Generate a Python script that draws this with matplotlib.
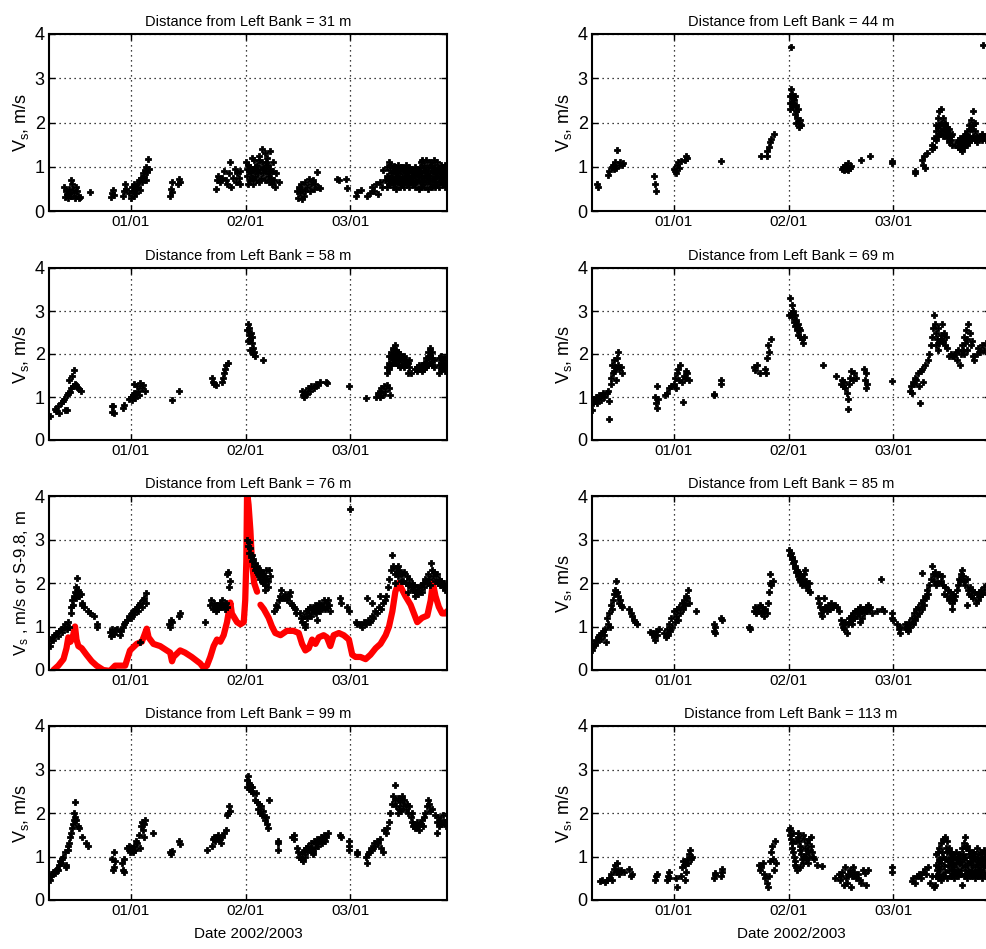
import matplotlib
matplotlib.use('Agg')
import matplotlib.pyplot as plt
import numpy as np

plt.rcParams['font.family'] = ['Liberation Sans', 'DejaVu Sans']
plt.rcParams['mathtext.fontset'] = 'custom'
plt.rcParams['mathtext.rm'] = 'Liberation Sans'
plt.rcParams['mathtext.default'] = 'regular'

# x = days from 2003-01-01, y = Vs (m/s)
pts_31 = [(-18.0, 0.55), (-17.8, 0.32), (-17.5, 0.45), (-17.2, 0.38), (-17.0, 0.30), (-16.7, 0.50), (-16.5, 0.42),
          (-16.2, 0.70), (-16.0, 0.35), (-15.8, 0.60), (-15.6, 0.48), (-15.3, 0.40), (-15.0, 0.30), (-14.8, 0.55),
          (-14.5, 0.45), (-14.2, 0.35), (-14.0, 0.30), (-13.7, 0.32), (-11.0, 0.43),
          (-5.2, 0.32), (-5.0, 0.40), (-4.8, 0.48), (-4.6, 0.36), (-2.0, 0.35), (-1.8, 0.45), (-1.5, 0.60), (-1.2, 0.50),
          (-0.5, 0.40), (0.0, 0.30), (0.3, 0.55), (0.5, 0.45), (0.8, 0.35), (1.0, 0.60), (1.3, 0.50), (1.5, 0.40),
          (1.8, 0.62), (2.0, 0.55), (2.3, 0.70), (2.5, 0.48), (2.8, 0.75), (3.0, 0.65), (3.2, 0.85), (3.5, 0.80),
          (3.7, 0.92), (4.0, 0.70), (4.2, 1.00), (4.4, 0.88), (4.6, 1.17), (4.8, 0.95),
          (10.6, 0.35), (10.8, 0.50), (11.0, 0.65), (11.2, 0.42), (12.8, 0.60), (13.0, 0.72), (13.2, 0.65),
          (23.0, 0.50), (23.2, 0.70), (23.5, 0.80), (24.0, 0.65), (24.5, 0.75), (25.0, 0.90), (25.5, 0.70),
          (26.0, 0.60), (26.5, 0.85), (26.8, 1.10), (27.0, 0.55), (27.5, 0.75), (28.0, 0.95), (28.3, 0.65),
          (28.6, 0.85), (29.0, 0.75), (29.4, 0.60), (29.5, 0.90),
          (31.0, 1.10), (31.2, 0.95), (31.4, 0.80), (31.6, 1.05), (31.8, 0.90), (32.0, 0.70), (32.2, 1.00),
          (32.4, 0.85), (32.6, 0.75), (32.8, 0.95), (33.0, 0.60), (33.2, 1.15), (33.4, 0.80), (33.6, 0.90),
          (33.8, 0.70), (34.0, 1.05), (34.2, 0.85), (34.4, 0.65), (34.6, 1.25), (34.8, 0.95), (35.0, 0.75),
          (35.2, 1.10), (35.4, 1.40), (35.6, 0.85), (35.8, 1.00), (36.0, 0.70), (36.2, 1.30), (36.4, 0.90),
          (36.6, 1.20), (36.8, 0.80), (37.0, 1.05), (37.2, 0.65), (37.4, 0.95), (37.6, 1.35), (37.8, 0.75),
          (38.0, 0.60), (38.2, 1.10), (38.4, 0.90), (38.6, 0.70), (38.8, 0.55), (39.0, 0.85), (39.8, 0.66),
          (31.5, 0.60), (32.5, 1.20), (33.5, 1.00), (34.5, 1.15), (35.5, 0.95), (36.5, 1.10), (37.5, 0.85),
          (44.8, 0.45), (45.0, 0.30), (45.2, 0.55), (45.5, 0.40), (45.8, 0.60), (46.0, 0.28), (46.2, 0.50),
          (46.5, 0.35), (46.8, 0.45), (47.0, 0.65), (47.5, 0.55), (48.0, 0.72), (48.3, 0.45), (48.6, 0.60),
          (49.0, 0.70), (49.3, 0.50), (49.6, 0.62), (50.0, 0.88), (50.5, 0.55), (51.0, 0.52),
          (55.5, 0.72), (56.0, 0.70), (58.0, 0.72), (58.3, 0.52),
          (60.5, 0.35), (60.8, 0.42), (62.0, 0.48), (63.5, 0.35), (64.5, 0.40), (65.0, 0.55), (65.5, 0.45),
          (66.0, 0.60), (66.5, 0.38), (67.0, 0.65), (67.5, 0.55), (68.0, 0.93), (68.3, 0.70),
          (69.0, 0.55), (69.0, 0.80), (69.0, 1.00), (69.5, 0.60), (69.5, 0.75), (69.5, 1.10), (70.0, 0.65),
          (70.0, 0.85), (70.0, 1.05), (70.5, 0.55), (70.5, 0.90), (70.5, 0.70), (71.0, 0.60), (71.0, 0.80),
          (71.0, 1.00), (71.5, 0.50), (71.5, 0.75), (71.5, 0.95), (72.0, 0.65), (72.0, 0.85), (72.0, 1.05),
          (72.5, 0.55), (72.5, 0.70), (72.5, 0.90), (73.0, 0.60), (73.0, 0.80), (73.0, 1.00), (73.5, 0.55),
          (73.5, 0.75), (73.5, 0.95), (74.0, 0.65), (74.0, 0.85), (74.0, 1.05), (74.5, 0.60), (74.5, 0.80),
          (74.5, 0.90), (75.0, 0.55), (75.0, 0.75), (75.0, 1.00), (75.5, 0.65), (75.5, 0.85), (75.5, 0.95),
          (76.0, 0.60), (76.0, 0.70), (76.0, 0.90), (76.5, 0.55), (76.5, 0.80), (76.5, 1.00), (77.0, 0.65),
          (77.0, 0.85), (77.0, 0.95), (77.5, 0.50), (77.5, 0.70), (77.5, 0.90), (78.0, 0.55), (78.0, 0.80),
          (78.0, 1.10), (78.5, 0.60), (78.5, 0.85), (78.5, 1.15), (79.0, 0.55), (79.0, 0.75), (79.0, 1.05),
          (79.5, 0.65), (79.5, 0.90), (79.5, 1.15), (80.0, 0.50), (80.0, 0.80), (80.0, 1.00), (80.5, 0.60),
          (80.5, 0.85), (80.5, 1.10), (81.0, 0.55), (81.0, 0.75), (81.0, 1.05), (81.5, 0.65), (81.5, 0.90),
          (81.5, 1.15), (82.0, 0.55), (82.0, 0.80), (82.0, 1.00), (82.5, 0.60), (82.5, 0.85), (82.5, 1.10),
          (83.0, 0.55), (83.0, 0.75), (83.0, 0.95), (83.5, 0.65), (83.5, 0.90), (83.5, 1.05), (84.0, 0.60),
          (84.0, 0.80), (84.0, 1.00), (84.5, 0.55), (84.5, 0.85), (84.5, 1.05), (85.0, 0.65), (85.0, 0.90),
          (69.25, 0.68), (69.75, 0.92), (70.25, 0.75), (70.75, 1.02), (71.25, 0.70), (71.75, 0.88),
          (72.25, 0.75), (72.75, 1.00), (73.25, 0.70), (73.75, 0.88), (74.25, 0.75), (74.75, 0.98),
          (75.25, 0.68), (75.75, 0.78), (76.25, 0.82), (76.75, 0.68), (77.25, 0.78), (77.75, 1.00),
          (78.25, 0.68), (78.75, 0.98), (79.25, 0.90), (79.75, 0.78), (80.25, 0.70), (80.75, 0.98),
          (81.25, 0.90), (81.75, 0.75), (82.25, 0.68), (82.75, 0.98), (83.25, 0.85), (83.75, 0.75),
          (84.25, 0.70), (84.75, 0.95)]

pts_44 = [(-20.6, 0.62), (-20.5, 0.55), (-17.6, 0.82), (-17.4, 0.90), (-16.6, 1.00), (-16.3, 1.05), (-16.0, 0.95),
          (-15.7, 1.10), (-15.5, 0.98), (-15.2, 1.38), (-14.8, 1.05), (-14.5, 1.10), (-14.0, 1.05), (-13.6, 1.08),
          (-5.3, 0.78), (-5.0, 0.62), (-4.8, 0.45),
          (0.0, 0.95), (0.3, 0.90), (0.6, 0.85), (0.9, 1.05), (1.2, 1.10), (1.5, 0.98), (2.0, 1.12), (3.0, 1.15),
          (3.2, 1.25), (3.5, 1.20), (12.6, 1.14),
          (23.4, 1.25), (25.0, 1.25), (25.2, 1.35), (25.5, 1.45), (25.8, 1.55), (26.2, 1.62), (27.0, 1.75),
          (31.5, 3.70), (31.2, 2.30), (31.4, 2.60), (31.6, 2.75), (31.8, 2.45), (32.0, 2.55), (32.2, 2.35),
          (32.4, 2.50), (32.6, 2.20), (32.8, 2.40), (33.0, 2.25), (33.2, 2.10), (33.4, 2.30), (33.6, 2.00),
          (33.8, 1.90), (34.0, 2.05), (34.2, 1.95), (31.3, 2.45), (31.9, 2.65), (32.5, 2.60), (33.0, 2.00),
          (45.2, 0.95), (45.5, 1.00), (46.0, 1.05), (46.3, 0.95), (46.6, 1.00), (47.0, 1.08), (47.3, 0.98),
          (47.6, 1.02), (46.8, 0.92), (45.8, 0.92), (50.5, 1.15), (52.7, 1.25), (58.6, 1.12), (58.6, 1.08),
          (64.9, 0.90), (64.9, 0.85), (66.7, 1.15), (67.0, 1.05), (67.3, 1.25), (67.6, 0.97), (68.2, 1.30),
          (69.5, 1.40), (69.5, 1.50), (70.0, 1.45), (70.0, 1.65), (70.5, 1.60), (70.5, 1.80), (70.5, 1.95),
          (71.0, 1.70), (71.0, 1.90), (71.0, 2.10), (71.5, 1.75), (71.5, 1.95), (71.5, 2.25), (72.0, 1.80),
          (72.0, 2.00), (72.0, 2.30), (72.5, 1.70), (72.5, 1.85), (72.5, 2.10), (73.0, 1.75), (73.0, 1.95),
          (73.0, 2.00), (73.5, 1.65), (73.5, 1.80), (73.5, 1.90), (74.0, 1.55), (74.0, 1.75), (74.0, 1.85),
          (74.5, 1.60), (74.5, 1.70), (75.0, 1.50), (75.0, 1.75), (75.7, 1.50),
          (76.5, 1.45), (76.5, 1.55), (76.5, 1.60), (77.0, 1.40), (77.0, 1.55), (77.0, 1.65), (77.5, 1.35),
          (77.5, 1.50), (77.5, 1.60), (78.0, 1.45), (78.0, 1.55), (78.0, 1.70), (78.5, 1.50), (78.5, 1.60),
          (78.5, 1.75), (79.0, 1.50), (79.0, 1.65), (79.0, 1.80), (79.5, 1.55), (79.5, 1.70), (79.5, 1.95),
          (80.0, 1.60), (80.0, 1.85), (80.0, 2.05), (80.5, 1.70), (80.5, 1.95), (80.5, 2.25), (81.0, 1.60),
          (81.0, 1.80), (81.0, 2.00), (81.5, 1.55), (81.5, 1.70), (82.5, 1.65), (82.5, 1.70), (83.0, 1.60),
          (83.0, 1.75), (83.5, 1.65), (83.5, 1.70), (84.0, 1.60), (84.0, 1.70), (83.3, 3.75)]

pts_58 = [(-21.6, 0.55), (-20.5, 0.72), (-20.0, 0.68), (-19.6, 0.80), (-19.2, 0.62), (-18.8, 0.85), (-18.3, 0.90),
          (-18.0, 0.95), (-17.6, 0.70), (-17.2, 1.05), (-17.0, 1.10), (-16.6, 1.40), (-16.3, 1.12), (-16.0, 1.20),
          (-15.7, 1.50), (-15.5, 1.25), (-15.2, 1.62), (-15.0, 1.30), (-14.6, 1.28), (-14.2, 1.20), (-13.8, 1.18),
          (-13.3, 1.15), (-17.2, 0.69),
          (-5.1, 0.80), (-5.0, 0.65), (-4.8, 0.78), (-4.6, 0.62), (-2.0, 0.75), (-1.8, 0.82),
          (-0.5, 0.95), (0.0, 1.00), (0.3, 0.92), (0.6, 1.05), (0.9, 1.10), (1.2, 0.98), (1.5, 1.08), (1.8, 1.25),
          (2.0, 1.15), (2.3, 1.05), (2.6, 1.32), (3.0, 1.20), (3.4, 1.28), (3.8, 1.15), (1.0, 1.30),
          (11.0, 0.93), (13.0, 1.15),
          (21.8, 1.45), (22.0, 1.35), (22.3, 1.30), (23.0, 1.28), (24.5, 1.35), (24.8, 1.45), (25.0, 1.55),
          (25.3, 1.65), (25.6, 1.75), (26.2, 1.78),
          (31.3, 2.55), (31.5, 2.70), (31.7, 2.45), (31.9, 2.60), (32.1, 2.35), (32.3, 2.50), (32.5, 2.25),
          (32.7, 2.40), (32.9, 2.15), (33.1, 2.05), (33.3, 1.95), (31.6, 2.30), (32.2, 2.10), (33.0, 2.00),
          (35.6, 1.85),
          (46.1, 1.15), (46.3, 1.05), (46.6, 1.00), (46.9, 1.12), (47.3, 1.08), (47.7, 1.20), (48.2, 1.15),
          (48.6, 1.25), (49.2, 1.22), (49.8, 1.30), (50.5, 1.28), (51.0, 1.35), (52.5, 1.35), (52.8, 1.32),
          (58.7, 1.25), (63.3, 0.97),
          (65.9, 1.00), (66.5, 1.10), (67.0, 1.00), (67.3, 1.20), (67.8, 1.05), (68.2, 1.25), (68.5, 1.15),
          (69.0, 1.28), (69.5, 1.22), (69.8, 1.05), (67.0, 1.12),
          (69.0, 1.55), (69.0, 1.70), (69.5, 1.65), (69.5, 1.80), (69.5, 1.95), (70.0, 1.75), (70.0, 1.90),
          (70.0, 2.05), (70.5, 1.80), (70.5, 1.95), (70.5, 2.15), (71.0, 1.85), (71.0, 2.00), (71.0, 2.20),
          (71.5, 1.80), (71.5, 1.95), (71.5, 2.10), (72.0, 1.75), (72.0, 1.90), (72.0, 2.05), (72.5, 1.70),
          (72.5, 1.85), (72.5, 2.00), (73.0, 1.75), (73.0, 1.90), (73.5, 1.70), (73.5, 1.80), (73.5, 1.95),
          (74.0, 1.75), (74.0, 1.85), (74.5, 1.55), (74.5, 1.80), (75.0, 1.70), (75.0, 1.85), (75.5, 1.55),
          (76.5, 1.65), (77.0, 1.60), (77.0, 1.70), (77.5, 1.65), (77.5, 1.75), (78.0, 1.65), (78.0, 1.70),
          (78.5, 1.60), (78.5, 1.75), (79.0, 1.65), (79.0, 1.70), (79.0, 1.80), (79.5, 1.70), (79.5, 1.80),
          (79.5, 1.90), (80.0, 1.75), (80.0, 1.90), (80.0, 2.05), (80.5, 1.80), (80.5, 1.95), (80.5, 2.15),
          (81.0, 1.75), (81.0, 1.90), (81.0, 2.05), (81.5, 1.70), (81.5, 1.85), (83.0, 1.55), (83.0, 1.75),
          (83.0, 1.90), (83.5, 1.65), (83.5, 1.80), (83.5, 1.95), (84.0, 1.70), (84.0, 1.85), (84.5, 1.60),
          (84.5, 1.75), (84.5, 1.90), (85.0, 1.70), (85.0, 1.80)]

pts_69 = [(-22.0, 0.70), (-21.8, 0.85), (-21.6, 0.95), (-21.2, 0.90), (-20.9, 1.00), (-20.6, 0.85), (-20.3, 0.95),
          (-20.0, 1.05), (-19.7, 0.92), (-19.4, 1.05), (-19.0, 1.10), (-18.7, 1.00), (-18.0, 1.10), (-17.6, 1.15),
          (-17.3, 0.90), (-17.5, 0.48), (-17.0, 1.30), (-16.8, 1.45), (-16.6, 1.75), (-16.4, 1.55), (-16.2, 1.85),
          (-16.0, 1.60), (-15.8, 1.70), (-15.5, 1.40), (-15.3, 1.90), (-15.1, 2.05), (-14.9, 1.75), (-14.6, 1.65),
          (-14.3, 1.70), (-14.0, 1.55),
          (-5.0, 1.00), (-4.8, 0.85), (-4.6, 0.75), (-4.4, 1.25), (-4.2, 0.95),
          (-2.3, 1.05), (-1.8, 1.10), (-1.3, 1.20), (-0.8, 1.25),
          (0.0, 1.30), (0.3, 1.45), (0.6, 1.20), (0.9, 1.55), (1.2, 1.65), (1.5, 1.40), (1.8, 1.75), (2.1, 1.35),
          (2.4, 0.88), (2.7, 1.50), (3.0, 1.45), (3.3, 1.60), (3.6, 1.55), (4.0, 1.40),
          (10.8, 1.08), (10.9, 1.05), (12.6, 1.40), (12.6, 1.30),
          (21.6, 1.70), (21.8, 1.62), (22.5, 1.75), (23.2, 1.55), (24.5, 1.65), (24.8, 1.55), (25.1, 1.90),
          (25.4, 2.20), (25.6, 2.05), (26.2, 2.35),
          (31.1, 2.90), (31.3, 3.30), (31.5, 2.95), (31.7, 3.15), (31.9, 2.85), (32.1, 3.00), (32.3, 2.75),
          (32.5, 2.90), (32.7, 2.65), (32.9, 2.80), (33.1, 2.55), (33.3, 2.70), (33.5, 2.45), (33.7, 2.60),
          (33.9, 2.40), (34.1, 2.55), (34.4, 2.35), (34.7, 2.25), (35.0, 2.40),
          (40.1, 1.75), (43.7, 1.50),
          (45.0, 1.30), (45.3, 1.40), (45.6, 1.25), (45.9, 1.35), (46.2, 1.20), (46.5, 1.10), (46.8, 0.95),
          (46.9, 0.72), (47.2, 1.30), (47.5, 1.45), (47.8, 1.60), (48.1, 1.40), (48.5, 1.55), (49.0, 1.45),
          (51.2, 1.65), (51.5, 1.40), (51.8, 1.55), (52.0, 1.30), (51.6, 1.20), (58.6, 1.38),
          (63.5, 1.15), (63.8, 1.25), (64.1, 1.10), (64.4, 1.35), (64.7, 1.30), (65.0, 1.45), (65.3, 1.40),
          (65.6, 1.55), (65.9, 1.25), (66.2, 0.85), (66.5, 1.60), (66.8, 1.65), (67.2, 1.35), (67.6, 1.75),
          (68.5, 1.85), (68.8, 2.00), (69.1, 2.20), (69.4, 2.40), (69.7, 2.60), (70.0, 2.90), (70.3, 2.70),
          (70.6, 2.50), (70.9, 2.35), (71.2, 2.60), (71.5, 2.25), (71.8, 2.45), (72.1, 2.70), (72.4, 2.30),
          (72.7, 2.50), (73.0, 2.20), (73.3, 2.40), (73.6, 2.15), (74.0, 1.95), (74.5, 2.00), (75.0, 1.95),
          (75.5, 1.95), (76.0, 2.05), (76.3, 1.85), (76.6, 2.10), (76.9, 1.75), (77.2, 2.00), (77.5, 2.20),
          (77.8, 2.10), (78.1, 2.40), (78.4, 2.25), (78.7, 2.55), (79.0, 2.35), (79.3, 2.70), (79.6, 2.50),
          (79.9, 2.20), (80.2, 2.30), (80.5, 1.95), (80.8, 1.85), (81.5, 2.00), (82.0, 2.15), (82.5, 2.05),
          (83.0, 2.20), (83.5, 2.10), (84.0, 2.25), (84.5, 2.05), (70.5, 2.20), (71.0, 2.10), (72.0, 2.35),
          (78.0, 2.00), (79.0, 2.10)]

pts_76 = [(-21.7, 0.55), (-21.5, 0.70), (-21.2, 0.75), (-20.8, 0.68), (-20.5, 0.80), (-20.0, 0.85), (-19.6, 0.78),
          (-19.2, 0.90), (-18.8, 0.95), (-18.5, 0.88), (-18.0, 1.00), (-17.6, 1.05), (-17.2, 0.95), (-16.8, 1.10),
          (-16.5, 1.00), (-16.2, 1.30), (-16.0, 1.45), (-15.8, 1.60), (-15.5, 1.50), (-15.2, 1.70), (-15.0, 1.80),
          (-14.8, 1.65), (-14.6, 1.90), (-14.4, 2.12), (-14.2, 1.85), (-14.0, 1.75), (-13.8, 1.70), (-13.5, 1.75),
          (-13.2, 1.55), (-13.0, 1.50), (-12.5, 1.45), (-11.5, 1.35), (-11.0, 1.30), (-10.0, 1.25), (-9.2, 1.05),
          (-9.0, 1.00),
          (-5.5, 0.88), (-5.2, 0.78), (-5.0, 0.95), (-4.6, 0.82), (-4.2, 0.92), (-3.8, 0.95),
          (-2.8, 0.80), (-2.5, 0.90), (-2.2, 1.00), (-1.8, 1.05), (-1.5, 1.10), (-1.0, 1.15), (-0.5, 1.25),
          (0.0, 1.20), (0.3, 1.30), (0.6, 1.35), (1.0, 1.28), (1.3, 1.40), (1.6, 1.45), (2.0, 1.35), (2.3, 1.50),
          (2.6, 1.55), (3.0, 1.45), (3.3, 1.60), (3.6, 1.65), (4.0, 1.78), (4.2, 1.55), (2.5, 0.65),
          (10.2, 1.05), (10.5, 1.00), (10.8, 1.15), (11.0, 1.10), (13.0, 1.25), (13.2, 1.30), (20.0, 1.10),
          (21.4, 1.50), (21.7, 1.60), (22.0, 1.40), (22.3, 1.55), (22.6, 1.45), (23.0, 1.35), (23.3, 1.50),
          (23.6, 1.40), (24.0, 1.55), (24.3, 1.45), (24.6, 1.60), (25.0, 1.50), (25.3, 1.40), (25.6, 1.55),
          (25.9, 2.20), (26.2, 2.25), (26.5, 1.90), (26.0, 1.45), (26.8, 2.05),
          (31.3, 3.00), (31.5, 2.85), (31.7, 2.95), (31.9, 2.70), (32.1, 2.80), (32.3, 2.60), (32.5, 2.65),
          (32.7, 2.50), (32.9, 2.55), (33.1, 2.40), (33.3, 2.45), (33.5, 2.30), (33.7, 2.35), (33.9, 2.25),
          (34.1, 2.40), (34.3, 2.20), (34.5, 2.15), (34.7, 2.30), (34.9, 2.10), (35.1, 2.25), (35.3, 2.05),
          (35.5, 2.20), (35.7, 2.00), (35.9, 2.15), (36.1, 1.95), (36.3, 2.30), (36.5, 2.10), (36.8, 2.05),
          (37.2, 2.30), (37.5, 2.15), (37.0, 1.90), (36.0, 1.85),
          (38.5, 1.35), (39.0, 1.50), (39.3, 1.45), (39.8, 1.60), (40.2, 1.70), (40.5, 1.85), (41.0, 1.65),
          (41.5, 1.75), (42.0, 1.60), (42.5, 1.70), (43.0, 1.55), (43.3, 1.50), (43.8, 1.45), (44.2, 1.40),
          (44.5, 1.30), (42.8, 1.80),
          (45.6, 1.30), (45.9, 1.20), (46.2, 1.10), (46.5, 1.25), (46.8, 1.05), (47.1, 1.35), (47.4, 1.20),
          (47.7, 1.40), (48.0, 1.30), (48.3, 1.45), (48.6, 1.25), (48.9, 1.40), (49.2, 1.35), (49.5, 1.50),
          (49.8, 1.30), (50.1, 1.45), (50.4, 1.40), (50.7, 1.55), (51.0, 1.35), (51.3, 1.50), (51.6, 1.45),
          (51.9, 1.60), (52.2, 1.40), (52.5, 1.55), (52.8, 1.45), (53.1, 1.60), (53.4, 1.50), (53.7, 1.35),
          (47.0, 1.00), (50.0, 1.15),
          (56.4, 1.65), (56.6, 1.55), (58.3, 1.45), (58.6, 1.35), (59.1, 3.70), (60.5, 1.10), (60.8, 1.05),
          (63.6, 1.65),
          (61.8, 1.05), (62.3, 1.00), (62.8, 1.10), (63.3, 1.05), (63.8, 1.15), (64.3, 1.10), (64.8, 1.25),
          (65.3, 1.20), (65.8, 1.35), (66.3, 1.30), (66.8, 1.45), (67.3, 1.40), (67.8, 1.55), (68.3, 1.60),
          (68.8, 1.70), (69.3, 1.90), (69.6, 2.10), (70.0, 2.30), (70.3, 2.65), (70.6, 2.40), (71.0, 2.20),
          (71.3, 2.35), (71.6, 2.25), (72.0, 2.15), (72.3, 2.30), (72.6, 2.05), (67.0, 1.70), (65.0, 1.55),
          (73.0, 2.20), (73.3, 2.05), (73.6, 2.25), (74.0, 2.00), (74.3, 2.15), (74.6, 1.95), (75.0, 2.10),
          (75.3, 1.90), (75.6, 2.00), (76.0, 1.85), (76.3, 1.95), (76.6, 1.80), (77.0, 1.90), (77.3, 1.75),
          (77.6, 1.85), (78.0, 1.95), (78.3, 1.80), (78.6, 2.00), (79.0, 1.90), (79.3, 2.10), (79.6, 2.00),
          (80.0, 2.20), (80.3, 2.10), (80.7, 2.45), (81.0, 2.30), (81.3, 2.15), (81.6, 2.25), (82.0, 2.05),
          (82.3, 2.20), (82.6, 2.00), (83.0, 2.10), (83.3, 1.95), (83.6, 2.05), (84.0, 1.90), (84.3, 2.00),
          (84.6, 1.85), (85.0, 1.95), (74.5, 1.80), (76.5, 1.70), (71.0, 2.00), (72.0, 2.40), (80.5, 1.95)]

# red curve, stage S - 9.8 m, same day axis (nan = gap in record)
stage_day = [-20.8, -19.5, -18.1, -17.3, -16.8, -16.2, -15.5, -15.0, -14.6, -14.1, -13.2, -11.9, -10.5, -9.2,
             -8.3, -7.4, -5.6, -4.2, -2.9, -1.5, -0.2, 1.6, 3.0, 4.3, 4.8, 6.1, 7.9, 9.7, 10.6, 11.1, 11.5,
             13.3, 14.6, 16.4, 18.7, 19.6, 20.5, 21.4, 22.3, 23.2, 24.1, 25.0, 25.9, 26.8, 27.2, 28.6, 29.5,
             30.4, 30.8, 31.1, 31.3, 31.7, 32.2, 32.6, 33.2, 34.0, 34.4, 34.9, 35.8, 37.1, 38.0, 38.9, 40.3,
             42.0, 43.8, 45.2, 46.1, 47.0, 47.9, 48.8, 49.7, 50.6, 51.9, 52.8, 53.7, 54.6, 56.0, 57.3, 58.7,
             59.6, 60.5, 61.8, 63.2, 64.5, 65.9, 67.2, 68.6, 69.5, 70.4, 71.2, 72.1, 73.0, 73.9, 75.3, 76.2,
             77.1, 78.4, 79.8, 80.7, 81.3, 82.0, 82.9, 83.8, 84.7, 85.1]
stage_val = [0.00, 0.10, 0.25, 0.50, 0.75, 0.65, 0.80, 1.00, 0.70, 0.55, 0.50, 0.35, 0.20, 0.10,
             0.05, 0.00, -0.02, 0.10, 0.10, 0.10, 0.45, 0.60, 0.65, 0.95, 0.75, 0.60, 0.55, 0.45, 0.40, 0.20, 0.30,
             0.45, 0.40, 0.30, 0.15, 0.05, 0.10, 0.30, 0.55, 0.70, 0.65, 0.80, 1.10, 1.55, 1.30, 1.10, 1.05,
             1.10, 1.60, 2.50, 4.10, 3.80, 3.20, 2.50, 2.00, 1.80, np.nan, 1.50, 1.40, 1.20, 1.00, 0.85, 0.80,
             0.90, 0.90, 0.85, 0.60, 0.45, 0.50, 0.70, 0.60, 0.75, 0.80, 0.75, 0.55, 0.80, 0.85, 0.80, 0.70,
             0.35, 0.30, 0.30, 0.25, 0.35, 0.50, 0.60, 0.80, 1.00, 1.35, 1.80, 2.00, 1.85, 1.70, 1.50, 1.30,
             1.10, 1.20, 1.25, 1.60, 2.00, 1.70, 1.45, 1.30, 1.30, 1.35]

pts_85 = [(-22.0, 0.45), (-21.8, 0.55), (-21.5, 0.62), (-21.2, 0.58), (-20.9, 0.70), (-20.6, 0.65), (-20.3, 0.75),
          (-20.0, 0.80), (-19.7, 0.72), (-19.4, 0.85), (-19.1, 0.90), (-18.8, 0.80), (-18.5, 0.95), (-18.2, 0.65),
          (-18.0, 1.20), (-17.8, 1.05), (-17.5, 1.30), (-17.2, 1.00), (-17.0, 1.50), (-16.7, 1.40), (-16.4, 1.60),
          (-16.1, 1.75), (-15.8, 1.85), (-15.5, 2.05), (-15.3, 1.80), (-15.0, 1.70), (-14.7, 1.55), (-14.4, 1.60),
          (-14.1, 1.50), (-13.8, 1.45), (-12.0, 1.40), (-11.6, 1.30), (-11.2, 1.25), (-10.8, 1.15), (-10.4, 1.10),
          (-10.0, 1.05),
          (-6.3, 0.88), (-5.8, 0.85), (-5.3, 0.75), (-5.0, 0.68), (-4.7, 0.90), (-4.4, 0.80), (-4.0, 0.95),
          (-2.5, 0.85), (-2.2, 0.75), (-1.9, 0.95), (-1.6, 0.80), (-1.3, 1.05), (-1.0, 0.90), (-0.7, 1.20),
          (-0.4, 1.00), (0.0, 1.35), (0.3, 1.10), (0.6, 1.25), (0.9, 1.40), (1.2, 1.15), (1.5, 1.45), (1.8, 1.30),
          (2.1, 1.55), (2.4, 1.40), (2.7, 1.60), (3.0, 1.50), (3.3, 1.70), (3.6, 1.65), (3.9, 1.85), (4.2, 1.55),
          (6.0, 1.35),
          (10.8, 1.05), (10.9, 0.90), (11.0, 1.00), (11.1, 0.85), (12.8, 1.20), (13.0, 1.15), (20.3, 1.00),
          (20.4, 0.95),
          (21.6, 1.35), (21.9, 1.45), (22.2, 1.30), (22.5, 1.40), (22.8, 1.35), (23.1, 1.50), (23.4, 1.30),
          (23.7, 1.45), (24.0, 1.35), (24.3, 1.25), (24.6, 1.40), (25.0, 1.30), (25.3, 1.55), (25.6, 1.80),
          (25.8, 2.00), (26.0, 2.20), (26.3, 1.95), (26.6, 2.05),
          (31.1, 2.75), (31.3, 2.65), (31.5, 2.70), (31.7, 2.55), (31.9, 2.60), (32.1, 2.45), (32.3, 2.50),
          (32.5, 2.35), (32.7, 2.40), (32.9, 2.25), (33.1, 2.30), (33.3, 2.15), (33.5, 2.25), (33.7, 2.10),
          (33.9, 2.20), (34.1, 2.05), (34.3, 2.15), (34.5, 1.95), (34.7, 2.10), (34.9, 2.00), (35.1, 2.20),
          (35.3, 2.30), (35.5, 1.95), (35.7, 2.05), (35.9, 1.90), (36.1, 1.85), (36.3, 2.00), (36.6, 1.80),
          (38.7, 1.65), (39.0, 1.55), (39.3, 1.45), (39.6, 1.30), (39.9, 1.25), (40.2, 1.40), (40.5, 1.65),
          (40.8, 1.45), (41.2, 1.35), (41.6, 1.50), (42.0, 1.40), (42.4, 1.55), (42.8, 1.45),
          (43.5, 1.50), (44.0, 1.45), (44.5, 1.35),
          (45.0, 1.15), (45.3, 1.05), (45.6, 1.00), (45.9, 0.95), (46.2, 1.10), (46.5, 0.85), (46.8, 1.05),
          (47.1, 1.20), (47.4, 1.10), (47.7, 1.25), (48.0, 1.15), (48.3, 1.30), (48.6, 1.20), (48.9, 1.35),
          (49.2, 1.25), (49.5, 1.40), (49.8, 1.30), (50.1, 1.45), (50.4, 1.35), (50.7, 1.20), (51.0, 1.40),
          (51.3, 1.30), (51.6, 1.45), (51.9, 1.35), (52.2, 1.50), (52.5, 1.40), (52.8, 1.45), (53.4, 1.30),
          (48.0, 1.05), (50.0, 1.10),
          (55.8, 2.10), (54.7, 1.35), (56.0, 1.40), (56.5, 1.35), (58.6, 1.30), (58.8, 1.20), (59.0, 1.15),
          (60.2, 1.05), (60.5, 0.95), (60.8, 0.85), (61.0, 1.00), (66.7, 2.22),
          (62.2, 1.05), (62.5, 0.95), (62.8, 1.00), (63.1, 0.90), (63.4, 1.10), (63.7, 1.00), (64.0, 1.20),
          (64.3, 1.05), (64.6, 1.30), (64.9, 1.15), (65.2, 1.40), (65.5, 1.25), (65.8, 1.45), (66.1, 1.30),
          (66.4, 1.55), (66.7, 1.40), (67.0, 1.60), (67.3, 1.50), (67.6, 1.70), (67.9, 1.65), (68.2, 1.85),
          (68.5, 1.75), (68.8, 1.95), (69.1, 2.10), (69.4, 2.40), (69.7, 2.20), (70.0, 2.05), (70.3, 2.25),
          (70.6, 1.95), (70.9, 2.15), (71.2, 2.00), (71.5, 2.20), (71.8, 2.05), (72.1, 2.15), (72.4, 1.95),
          (72.8, 1.75), (73.1, 1.90), (73.4, 1.70), (73.7, 1.85), (74.0, 1.60), (74.3, 1.80), (74.6, 1.65),
          (74.9, 1.55), (75.2, 1.75), (75.5, 1.60), (75.8, 1.70), (76.1, 1.85), (76.4, 1.95), (76.7, 2.10),
          (77.0, 2.05), (77.3, 2.20), (77.6, 2.30), (77.9, 2.15), (78.2, 2.05), (78.5, 1.95), (78.8, 2.10),
          (79.1, 1.85), (79.4, 1.75), (79.7, 1.90), (80.0, 1.70), (80.3, 1.85), (80.6, 1.65), (80.9, 1.80),
          (81.2, 1.55), (81.5, 1.75), (81.8, 1.60), (82.1, 1.80), (82.4, 1.70), (82.7, 1.85), (83.0, 1.75),
          (83.5, 1.90), (84.0, 1.80), (84.5, 1.95), (75.0, 1.40), (79.0, 1.50)]

pts_99 = [(-21.7, 0.45), (-21.4, 0.55), (-21.1, 0.60), (-20.8, 0.65), (-20.5, 0.62), (-20.2, 0.70), (-19.9, 0.72),
          (-19.6, 0.68), (-19.3, 0.80), (-19.0, 0.90), (-18.7, 0.85), (-18.4, 0.95), (-18.1, 1.00), (-17.8, 1.10),
          (-17.5, 0.80), (-17.3, 0.75), (-17.0, 1.15), (-16.8, 1.25), (-16.5, 1.30), (-16.3, 1.45), (-16.0, 1.55),
          (-15.8, 1.65), (-15.6, 1.75), (-15.4, 1.85), (-15.2, 2.00), (-15.1, 2.25), (-14.9, 1.90), (-14.6, 1.85),
          (-14.2, 1.70), (-13.8, 1.65), (-13.0, 1.45), (-12.0, 1.30), (-11.5, 1.25),
          (-5.0, 0.95), (-4.8, 0.70), (-4.6, 0.75), (-4.4, 1.10), (-4.2, 0.90),
          (-2.3, 0.85), (-2.1, 0.70), (-1.9, 0.65), (-1.7, 0.95),
          (-1.0, 1.20), (-0.6, 1.25), (-0.3, 1.10), (0.0, 1.15), (0.3, 1.20), (0.6, 1.10), (0.9, 1.25),
          (1.2, 1.15), (1.5, 1.35), (1.8, 1.30), (2.1, 1.50), (2.4, 1.20), (2.7, 1.70), (3.0, 1.80), (3.3, 1.60),
          (3.6, 1.75), (3.9, 1.85), (3.5, 1.45), (6.1, 1.55),
          (10.6, 1.10), (10.9, 1.05), (11.2, 1.12), (13.0, 1.35), (13.2, 1.28), (20.5, 1.15),
          (21.9, 1.25), (22.2, 1.40), (22.5, 1.45), (22.8, 1.35), (23.1, 1.45), (23.4, 1.50), (23.8, 1.40),
          (24.2, 1.30), (24.6, 1.45), (25.0, 1.55), (25.5, 1.60), (25.8, 1.95), (26.1, 2.00), (26.4, 2.15),
          (26.7, 2.05),
          (31.2, 2.75), (31.4, 2.60), (31.6, 2.85), (31.8, 2.70), (32.0, 2.55), (32.2, 2.65), (32.4, 2.50),
          (32.7, 2.60), (33.0, 2.45), (33.3, 2.30), (33.6, 2.45), (33.9, 2.25), (34.2, 2.10), (34.5, 2.20),
          (34.8, 2.00), (35.1, 2.15), (35.4, 1.95), (35.7, 2.05), (36.0, 1.85), (36.3, 1.90), (36.6, 1.75),
          (36.9, 1.65), (37.2, 2.30),
          (39.5, 1.35), (39.6, 1.15), (39.7, 1.30), (43.5, 1.45), (43.8, 1.50), (44.0, 1.40),
          (44.8, 1.20), (45.1, 1.10), (45.4, 1.00), (45.7, 0.95), (46.0, 1.05), (46.3, 0.90), (46.6, 1.15),
          (46.9, 1.00), (47.2, 1.20), (47.5, 1.10), (47.8, 1.25), (48.1, 1.15), (48.4, 1.30), (48.7, 1.20),
          (49.0, 1.10), (49.3, 1.35), (49.6, 1.20), (49.9, 1.30), (50.2, 1.40), (50.5, 1.25), (50.8, 1.35),
          (51.1, 1.45), (51.4, 1.30), (51.7, 1.40), (52.0, 1.50), (52.3, 1.35), (52.6, 1.45), (53.0, 1.55),
          (49.0, 1.05),
          (56.4, 1.50), (56.6, 1.45), (58.7, 1.35), (58.8, 1.15), (58.6, 1.25), (60.9, 1.10), (61.0, 1.05),
          (63.2, 1.00), (63.5, 0.85), (63.8, 1.05), (64.2, 1.10), (64.6, 1.20), (65.0, 1.15), (65.4, 1.30),
          (65.8, 1.25), (66.2, 1.35), (66.6, 1.30), (67.0, 1.40), (67.4, 1.20), (67.8, 1.10),
          (68.2, 1.60), (68.6, 1.55), (69.0, 1.65), (69.4, 1.80), (69.8, 2.00), (70.2, 2.20), (70.6, 2.40),
          (71.0, 2.65), (71.2, 2.30), (71.5, 2.15), (71.8, 2.35), (72.1, 2.10), (72.4, 2.25), (72.7, 2.05),
          (73.0, 2.40), (73.3, 2.15), (73.6, 2.30), (74.0, 2.10), (74.3, 2.20), (74.6, 2.00), (75.0, 2.15),
          (75.3, 1.90), (75.6, 1.80), (76.0, 1.70), (76.3, 1.75), (76.6, 1.65), (77.0, 1.80), (77.3, 1.70),
          (77.6, 1.60), (78.0, 1.75), (78.3, 1.85), (78.6, 1.70), (79.0, 1.90), (79.3, 2.00), (79.6, 2.15),
          (80.0, 2.30), (80.3, 2.20), (80.6, 2.05), (81.0, 2.10), (82.0, 1.95), (82.3, 1.80), (82.6, 1.90),
          (83.0, 1.70), (83.3, 1.85), (83.6, 1.75), (84.0, 1.95), (84.3, 1.80), (84.7, 1.70), (85.0, 1.85),
          (82.5, 1.55), (75.8, 2.00), (72.0, 2.00)]

pts_113 = [(-19.8, 0.43), (-19.2, 0.45), (-18.6, 0.42), (-18.0, 0.45), (-17.4, 0.50), (-16.8, 0.60), (-16.5, 0.45),
           (-16.2, 0.72), (-15.9, 0.80), (-15.6, 0.65), (-15.3, 0.85), (-15.0, 0.70), (-14.7, 0.60), (-14.2, 0.68),
           (-13.3, 0.65), (-12.0, 0.72), (-11.4, 0.55), (-11.2, 0.60),
           (-5.0, 0.45), (-4.8, 0.55), (-4.6, 0.60), (-1.8, 0.45), (-1.6, 0.55), (-1.4, 0.65), (-1.2, 0.50),
           (0.5, 0.50), (1.0, 0.30), (2.0, 0.55), (2.3, 0.75), (2.6, 0.90), (2.9, 0.80), (3.2, 0.65), (3.5, 0.95),
           (3.8, 0.85), (4.1, 1.05), (4.4, 1.15), (4.7, 0.95), (5.0, 1.00), (3.0, 0.45),
           (10.8, 0.50), (11.0, 0.58), (11.2, 0.62), (12.8, 0.55), (13.0, 0.65), (13.1, 0.72),
           (23.0, 0.80), (23.3, 0.70), (23.6, 0.75), (24.0, 0.85), (24.3, 0.60), (24.6, 0.50), (25.0, 0.40),
           (25.3, 0.30), (25.6, 0.55), (25.9, 0.90), (26.2, 1.10), (26.5, 1.25), (26.8, 0.95), (27.0, 0.70),
           (27.2, 1.35), (27.4, 0.85),
           (31.1, 1.60), (31.3, 1.50), (31.5, 1.40), (31.7, 1.30), (31.9, 1.20), (32.1, 1.10), (32.3, 1.00),
           (32.5, 0.90), (32.7, 0.80), (32.9, 0.75), (33.1, 0.70), (33.3, 1.55), (33.5, 1.45), (33.7, 1.35),
           (33.9, 1.25), (34.1, 1.15), (34.3, 1.05), (34.5, 0.95), (34.7, 0.85), (34.9, 1.50), (35.1, 1.40),
           (35.3, 1.20), (35.5, 1.05), (35.7, 0.95), (35.9, 1.30), (36.1, 1.15), (36.3, 1.40), (36.5, 1.00),
           (36.8, 1.25), (37.1, 1.10), (37.4, 1.00), (37.8, 0.95), (38.5, 0.80), (31.2, 1.65), (32.0, 1.55),
           (33.0, 1.35), (34.0, 0.75), (35.0, 1.00), (36.0, 0.85), (37.0, 1.45), (40.0, 0.78),
           (43.3, 0.50), (44.5, 0.60), (44.8, 0.45), (45.1, 0.55), (45.4, 0.65), (45.7, 0.35), (46.0, 0.75),
           (46.3, 0.50), (46.6, 0.40), (47.0, 0.60), (47.3, 0.70), (47.6, 0.30), (48.0, 0.55), (48.3, 0.75),
           (48.6, 0.65), (49.0, 0.50), (49.5, 0.60), (50.0, 0.45), (50.5, 0.40), (51.0, 0.70), (51.5, 0.62),
           (51.8, 0.35), (52.2, 0.70),
           (58.6, 0.75), (58.8, 0.65),
           (64.0, 0.43), (64.5, 0.50), (65.0, 0.40), (65.5, 0.55), (66.0, 0.60), (66.5, 0.50), (67.0, 0.65),
           (67.5, 0.72), (68.0, 0.60), (68.5, 0.75), (69.0, 0.40), (69.5, 0.55), (70.0, 0.30), (70.3, 0.35),
           (70.5, 0.55), (70.5, 0.80), (70.5, 1.05), (71.0, 0.50), (71.0, 0.75), (71.0, 1.10), (71.5, 0.60),
           (71.5, 0.90), (71.5, 1.20), (72.0, 0.45), (72.0, 0.85), (72.0, 1.30), (72.5, 0.55), (72.5, 1.00),
           (72.5, 1.40), (73.0, 0.65), (73.0, 0.95), (73.0, 1.45), (73.5, 0.50), (73.5, 1.10), (73.5, 1.35),
           (74.0, 0.70), (74.0, 0.90), (74.0, 1.20), (74.5, 0.55), (74.5, 0.80), (74.5, 1.10), (75.0, 0.60),
           (75.0, 0.95), (75.0, 1.05), (75.5, 0.50), (75.5, 0.75), (75.5, 1.00), (76.0, 0.65), (76.0, 0.85),
           (76.0, 1.10), (76.5, 0.55), (76.5, 0.70), (76.5, 1.00), (77.0, 0.60), (77.0, 0.90), (77.0, 1.05),
           (77.5, 0.35), (77.5, 0.80), (77.5, 1.20), (78.0, 0.55), (78.0, 0.95), (78.0, 1.30), (78.5, 0.60),
           (78.5, 1.00), (78.5, 1.45), (79.0, 0.50), (79.0, 0.85), (79.0, 1.25), (79.5, 0.65), (79.5, 1.05),
           (79.5, 1.15), (80.0, 0.55), (80.0, 0.80), (80.0, 1.00), (80.5, 0.60), (80.5, 0.90), (80.5, 1.10),
           (81.0, 0.50), (81.0, 0.75), (81.0, 1.05), (81.5, 0.65), (81.5, 0.95), (81.5, 1.20), (82.0, 0.55),
           (82.0, 0.85), (82.0, 1.00), (82.5, 0.60), (82.5, 0.70), (82.5, 1.10), (83.0, 0.50), (83.0, 0.90),
           (83.0, 1.05), (83.5, 0.65), (83.5, 0.80), (83.5, 1.15), (84.0, 0.55), (84.0, 0.95), (84.0, 1.00),
           (84.5, 0.60), (84.5, 0.85), (84.5, 1.10),
           (70.75, 0.68), (71.25, 0.95), (71.75, 0.72), (72.25, 1.10), (72.75, 0.78), (73.25, 1.20),
           (73.75, 0.80), (74.25, 1.00), (74.75, 0.68), (75.25, 0.85), (75.75, 0.62), (76.25, 0.95),
           (76.75, 0.85), (77.25, 0.70), (77.75, 1.05), (78.25, 0.75), (78.75, 1.20), (79.25, 0.70),
           (79.75, 0.90), (80.25, 0.68), (80.75, 1.00), (81.25, 0.62), (81.75, 0.80), (82.25, 0.70),
           (82.75, 0.95), (83.25, 0.75), (83.75, 1.00), (84.25, 0.75), (84.75, 0.95)]

panels = [(31, pts_31), (44, pts_44), (58, pts_58), (69, pts_69),
          (76, pts_76), (85, pts_85), (99, pts_99), (113, pts_113)]

tick_days = [0, 31, 59]
tick_names = ['01/01', '02/01', '03/01']

W, H = 986, 949
fig = plt.figure(figsize=(W / 100, H / 100), dpi=100)

# axes boxes in pixels
col_left = [49, 592]
row_top = [34, 268, 496, 726]
row_bot = [211, 440, 670, 900]
ax_w = 398

for i, (dist, pts) in enumerate(panels):
    r, c = divmod(i, 2)
    left = col_left[c] / W
    bottom = 1 - row_bot[r] / H
    height = (row_bot[r] - row_top[r]) / H
    ax = fig.add_axes([left, bottom, ax_w / W, height])

    days = [p[0] for p in pts]
    vals = [p[1] for p in pts]
    if dist == 76:
        ax.plot(stage_day, stage_val, color='red', lw=4.5, solid_capstyle='round',
                solid_joinstyle='round', zorder=2)
    ax.plot(days, vals, linestyle='none', marker='P', ms=5, mew=0.6,
            color='black', zorder=3)

    ax.set_xlim(-22.0, 85.1)
    ax.set_ylim(0, 4)
    ax.set_yticks([0, 1, 2, 3, 4])
    ax.set_xticks(tick_days)
    ax.set_xticklabels(tick_names)
    ax.grid(True, linestyle=(0, (1, 3)), color='black', linewidth=0.9)
    ax.tick_params(direction='in', top=True, right=True, length=4, width=1, pad=3)
    ax.tick_params(axis='x', labelsize=11)
    ax.tick_params(axis='y', labelsize=13)
    for s in ax.spines.values():
        s.set_linewidth(1.5)
    ax.set_title(f'Distance from Left Bank = {dist} m', fontsize=10.5, pad=6)
    if dist == 76:
        ax.set_ylabel('V$_s$ , m/s or S-9.8, m', fontsize=12, labelpad=3)
    else:
        ax.set_ylabel('V$_s$, m/s', fontsize=13, labelpad=3)
    if r == 3:
        ax.set_xlabel('Date 2002/2003', fontsize=11, labelpad=6)

fig.savefig('out.png', dpi=100)
